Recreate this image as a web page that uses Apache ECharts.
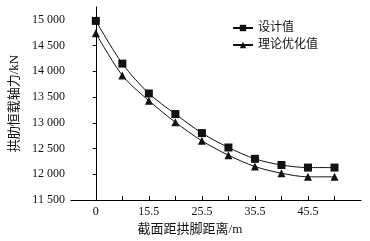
<!DOCTYPE html>
<html>
<head>
<meta charset="utf-8">
<script src="https://cdn.jsdelivr.net/npm/echarts@6/dist/echarts.min.js"></script>
<style>html,body{margin:0;padding:0;background:#fff;}#c{width:370px;height:241px;}</style>
</head>
<body>
<div id="c"></div>
<script>
var categories = ['0', '10.5', '15.5', '20.5', '25.5', '30.5', '35.5', '40.5', '45.5', '50.5'];
var designValues = [14980, 14150, 13570, 13170, 12800, 12520, 12300, 12180, 12130, 12130];
var optimizedValues = [14740, 13920, 13430, 13010, 12650, 12370, 12150, 12020, 11950, 11950];
var yTicks = [11500, 12000, 12500, 13000, 13500, 14000, 14500, 15000];
var xLabelIdx = [0, 2, 4, 6, 8];
var seriesNames = ['设计值', '理论优化值'];

var FONT = '"Liberation Serif", "Noto Sans CJK SC", serif';
function pts(arr) { return arr.map(function (v, i) { return [i, v]; }); }
function fmt(v) { var s = String(v); return s.length > 3 ? s.slice(0, s.length - 3) + ' ' + s.slice(-3) : s; }

var chart = echarts.init(document.getElementById('c'), null, {renderer: 'canvas'});
chart.setOption({
  animation: false,
  backgroundColor: '#fff',
  grid: {left: 70, right: 9, top: 7, bottom: 41},
  legend: {
    orient: 'vertical', left: 227, top: 17, itemWidth: 20, itemHeight: 8, itemGap: 5,
    textStyle: {fontFamily: FONT, fontSize: 12, color: '#111'},
    data: seriesNames
  },
  xAxis: {
    type: 'value', min: -0.94, max: 10,
    name: '截面距拱脚距离/m', nameLocation: 'middle', nameGap: 22,
    nameTextStyle: {fontFamily: FONT, fontSize: 13, color: '#111', padding: [0, 52, 0, 0]},
    axisLine: {show: true, lineStyle: {color: '#000', width: 1}},
    axisTick: {show: true, inside: true, length: 4, lineStyle: {color: '#000'}, customValues: [0,1,2,3,4,5,6,7,8,9]},
    axisLabel: {customValues: xLabelIdx, margin: 6, fontFamily: FONT, fontSize: 12, color: '#111',
      formatter: function (v) { return categories[Math.round(v)]; }},
    splitLine: {show: false}
  },
  yAxis: {
    type: 'value', min: 11500, max: 15250,
    name: '拱肋恒载轴力/kN', nameLocation: 'middle', nameGap: 49,
    nameTextStyle: {fontFamily: FONT, fontSize: 13, color: '#111'},
    axisLine: {show: true, lineStyle: {color: '#000', width: 1}},
    axisTick: {show: true, inside: false, length: 3, lineStyle: {color: '#000'}, customValues: yTicks},
    axisLabel: {customValues: yTicks, margin: 6, fontFamily: FONT, fontSize: 12, color: '#111', formatter: fmt},
    splitLine: {show: false}
  },
  series: [
    {name: seriesNames[0], type: 'line', smooth: 0.3, data: pts(designValues),
     symbol: 'rect', symbolSize: 8, itemStyle: {color: '#111'}, lineStyle: {color: '#111', width: 1}},
    {name: seriesNames[1], type: 'line', smooth: 0.3, data: pts(optimizedValues),
     symbol: 'triangle', symbolSize: 8, itemStyle: {color: '#111'}, lineStyle: {color: '#111', width: 1}}
  ]
});
</script>
</body>
</html>
